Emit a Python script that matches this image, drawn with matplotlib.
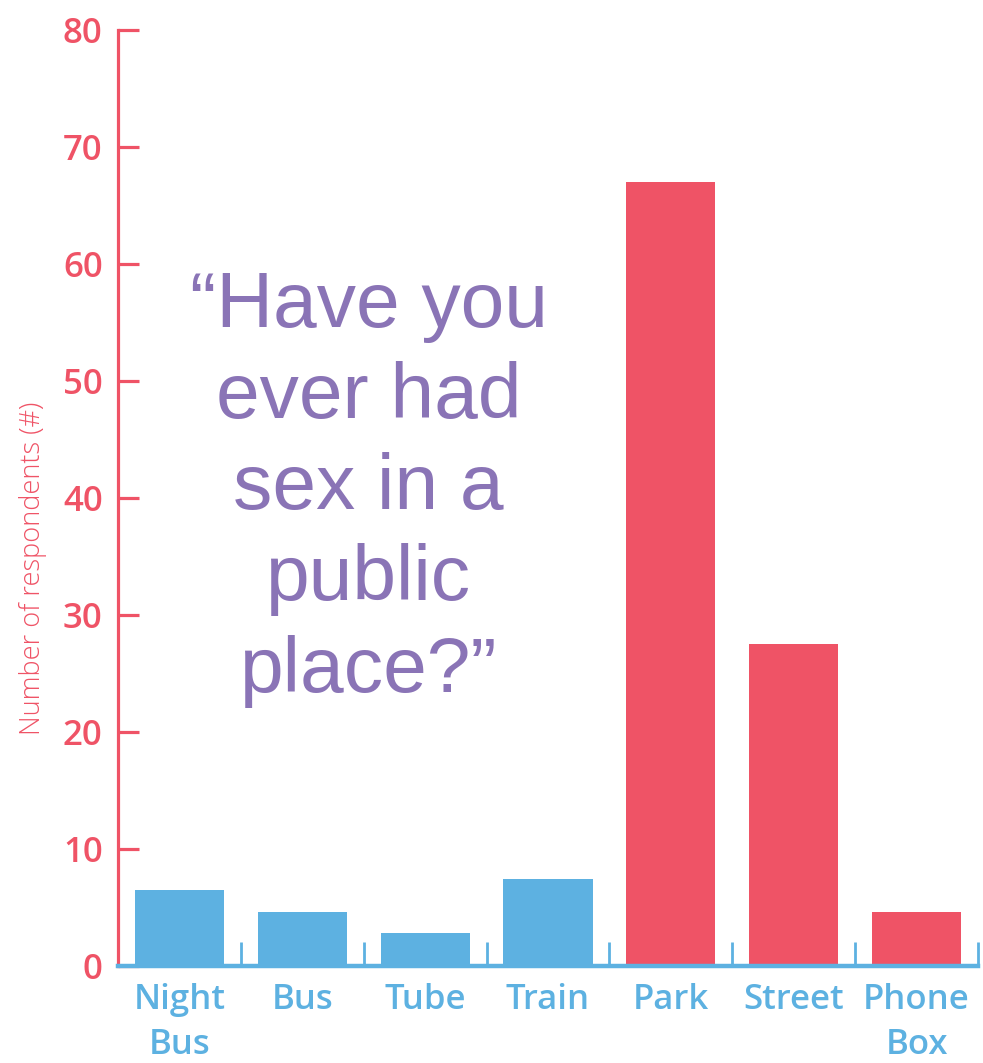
"""Public place survey bar chart."""

import matplotlib

matplotlib.use("Agg")
import matplotlib.pyplot as plt  # noqa: E402
import numpy as np  # noqa: E402

RED = "#EF5366"
BLUE = "#5DB1E1"
PURPLE = "#8A74B6"

places = ["Night\nBus", "Bus", "Tube", "Train", "Park", "Street", "Phone\nBox"]
respondents = [6.5, 4.6, 2.8, 7.4, 67.0, 27.5, 4.6]
bar_colors = [BLUE, BLUE, BLUE, BLUE, RED, RED, RED]
y_ticks = [0, 10, 20, 30, 40, 50, 60, 70, 80]

plt.rcParams["font.family"] = ["Open Sans", "DejaVu Sans"]

fig = plt.figure(figsize=(9.83, 10.63), dpi=100)
ax = fig.add_axes([118 / 983, 1 - 966 / 1063, 860 / 983, 936 / 1063])

x = np.arange(len(places))
ax.bar(x, respondents, width=0.725, color=bar_colors, zorder=2)

ax.set_xlim(-0.5, len(places) - 0.5)
ax.set_ylim(0, 80)

for side in ["top", "right"]:
    ax.spines[side].set_visible(False)
ax.spines["left"].set_color(RED)
ax.spines["left"].set_linewidth(2.3)
ax.spines["bottom"].set_color(BLUE)
ax.spines["bottom"].set_linewidth(3.2)
ax.spines["bottom"].set_zorder(3)

ax.set_yticks(y_ticks)
ax.tick_params(axis="y", direction="in", length=15, width=2.3, color=RED,
               labelcolor=RED, labelsize=25, pad=11)
for lbl in ax.get_yticklabels():
    lbl.set_fontweight("semibold")

ax.set_xticks(x)
ax.set_xticklabels(places, linespacing=1.45, fontweight="semibold")
ax.set_xticks(np.arange(len(places)) + 0.5, minor=True)
ax.tick_params(axis="x", which="major", length=0, labelcolor=BLUE,
               labelsize=25, pad=12)
ax.tick_params(axis="x", which="minor", direction="in", length=17, width=2,
               color=BLUE)

ax.set_ylabel("Number of respondents (#)", color=RED, fontsize=19.5,
              fontweight="light")
ax.yaxis.set_label_coords(-0.082, 0.425)

ax.text(1.54, 40.8, "\u201cHave you\never had\nsex in a\npublic\nplace?\u201d",
        ha="center", va="center", fontsize=56.5, color=PURPLE,
        family=["Liberation Sans", "DejaVu Sans"], linespacing=1.32)

plt.savefig("out.png", dpi=100)
plt.close()
